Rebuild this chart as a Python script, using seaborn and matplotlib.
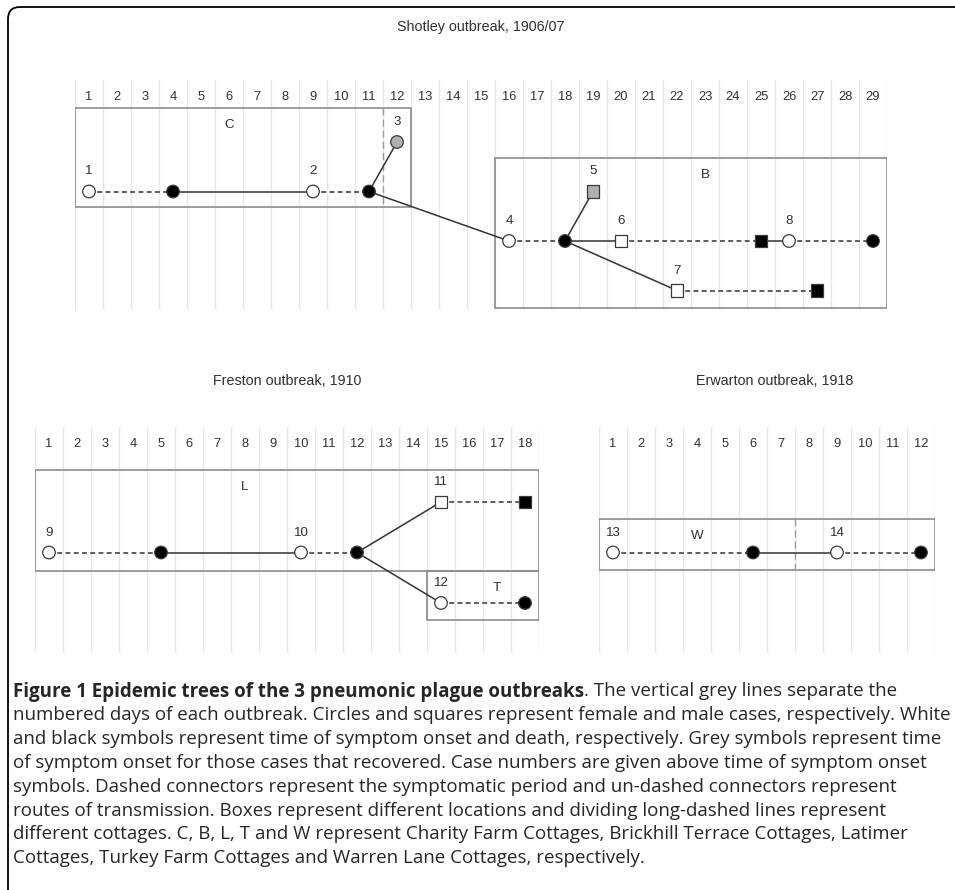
import matplotlib
matplotlib.use("Agg")
import matplotlib.pyplot as plt
import seaborn as sns
import pandas as pd
from matplotlib.patches import Rectangle, FancyBboxPatch
from matplotlib.transforms import IdentityTransform

sns.set_theme(style="white")
plt.rcParams['font.family'] = ['Liberation Sans', 'DejaVu Sans']

# ---------------- data ----------------
outbreak_keys = ["Shotley", "Freston", "Erwarton"]
outbreak_titles = ["Shotley outbreak, 1906/07", "Freston outbreak, 1910", "Erwarton outbreak, 1918"]
outbreak_days = [29, 18, 12]

case_ids = [1, 2, 3, 4, 5, 6, 7, 8, 9, 10, 11, 12, 13, 14]
case_outbreak = ["Shotley"] * 8 + ["Freston"] * 4 + ["Erwarton"] * 2
case_sex = ["F", "F", "F", "F", "M", "M", "M", "F", "F", "F", "M", "F", "F", "F"]
case_onset = [1, 9, 12, 16, 19, 20, 22, 26, 1, 10, 15, 15, 1, 9]
case_death = [4, 11, None, 18, None, 25, 27, 29, 5, 12, 18, 18, 6, 12]
case_row = [1, 1, 0, 2, 1, 2, 3, 2, 1, 1, 0, 2, 1, 1]
case_infector = [None, 1, 2, 2, 4, 4, 4, 6, None, 9, 10, 10, None, 13]

box_outbreak = ["Shotley", "Shotley", "Freston", "Freston", "Erwarton"]
box_label = ["C", "B", "L", "T", "W"]
box_first_day = [1, 16, 1, 15, 1]
box_last_day = [12, 29, 18, 18, 12]
box_row_top = [-0.68, 0.32, -0.634, 1.366, 0.346]
box_row_bottom = [1.32, 3.35, 1.366, 2.337, 1.356]
box_label_day = [6, 23, 8, 17, 4]
box_label_row = [-0.34, 0.67, -0.30, 1.70, 0.68]

divider_box = ["C", "W"]
divider_after_day = [11, 7]

caption_bold = "Figure 1 Epidemic trees of the 3 pneumonic plague outbreaks"
caption_lines = [
    ". The vertical grey lines separate the",
    "numbered days of each outbreak. Circles and squares represent female and male cases, respectively. White",
    "and black symbols represent time of symptom onset and death, respectively. Grey symbols represent time",
    "of symptom onset for those cases that recovered. Case numbers are given above time of symptom onset",
    "symbols. Dashed connectors represent the symptomatic period and un-dashed connectors represent",
    "routes of transmission. Boxes represent different locations and dividing long-dashed lines represent",
    "different cottages. C, B, L, T and W represent Charity Farm Cottages, Brickhill Terrace Cottages, Latimer",
    "Cottages, Turkey Farm Cottages and Warren Lane Cottages, respectively.",
]

# ---------------- layout (pixels) ----------------
W, H = 955, 890
DAY_PX = 28
panel_left = {"Shotley": 75, "Freston": 35, "Erwarton": 599}
panel_top = {"Shotley": 80, "Freston": 427, "Erwarton": 427}
panel_bottom = {"Shotley": 310, "Freston": 653, "Erwarton": 653}
panel_row0 = {"Shotley": 142, "Freston": 502, "Erwarton": 502}
panel_rowstep = {"Shotley": 49.5, "Freston": 50.5, "Erwarton": 50.5}
title_xy = {"Shotley": (481, 27), "Freston": (287, 381), "Erwarton": (775, 381)}

GRID_C = "#e6e6e6"
BOX_C = "#8c8c8c"
LINE_C = "#333333"
TEXT_C = "#303030"
DAY_FS = 9.3
CASE_FS = 9.6
TITLE_FS = 10.3

cases = pd.DataFrame({
    "id": case_ids, "outbreak": case_outbreak, "sex": case_sex,
    "onset": case_onset, "death": case_death, "row": case_row,
    "infector": case_infector,
})

fig = plt.figure(figsize=(W / 100, H / 100), dpi=100)
fig.patch.set_facecolor("white")

for key, title, ndays in zip(outbreak_keys, outbreak_titles, outbreak_days):
    L, T, B = panel_left[key], panel_top[key], panel_bottom[key]
    r0, rs = panel_row0[key], panel_rowstep[key]
    ax = fig.add_axes([L / W, 1 - B / H, ndays * DAY_PX / W, (B - T) / H])

    # day grid + labels
    days = list(range(1, ndays + 1))
    for d in range(0, ndays + 1):
        ax.axvline(d + 0.5, color=GRID_C, lw=1.0, zorder=0)
    for d in days:
        ax.annotate(str(d), (d, 1), xycoords=("data", "axes fraction"),
                    xytext=(0, -17 * 0.72), textcoords="offset points",
                    ha="center", va="center", fontsize=DAY_FS, color=TEXT_C)

    sub = cases[cases.outbreak == key]

    # markers
    ev = []
    for _, c in sub.iterrows():
        if pd.isna(c.death):
            ev.append({"day": c.onset, "row": c.row, "sex": c.sex, "status": "recovered"})
        else:
            ev.append({"day": c.onset, "row": c.row, "sex": c.sex, "status": "onset"})
            ev.append({"day": c.death, "row": c.row, "sex": c.sex, "status": "death"})
    ev = pd.DataFrame(ev)

    # connectors
    seg = []
    for _, c in sub.iterrows():
        if not pd.isna(c.death):
            sid = f"s{c.id}"
            seg.append({"seg": sid, "kind": "symptom", "day": c.onset, "row": c.row})
            seg.append({"seg": sid, "kind": "symptom", "day": c.death, "row": c.row})
        if not pd.isna(c.infector):
            src = cases[cases.id == c.infector].iloc[0]
            sid = f"t{c.id}"
            seg.append({"seg": sid, "kind": "transmission", "day": src.death, "row": src.row})
            seg.append({"seg": sid, "kind": "transmission", "day": c.onset, "row": c.row})
    seg = pd.DataFrame(seg)

    sns.lineplot(data=seg, x="day", y="row", units="seg", estimator=None, sort=False,
                 style="kind", style_order=["symptom", "transmission"],
                 dashes={"symptom": (3.2, 2.2), "transmission": ""},
                 color=LINE_C, lw=1.1, legend=False, ax=ax, zorder=2)

    sns.scatterplot(data=ev, x="day", y="row", hue="status", style="sex",
                    palette={"onset": "white", "death": "black", "recovered": "#b0b0b0"},
                    markers={"F": "o", "M": "s"}, s=82, edgecolor="#3a3a3a",
                    linewidth=0.9, legend=False, ax=ax, zorder=4)
    ax.set_xlim(0.5, ndays + 0.5)
    ax.set_ylim((B - r0) / rs, (T - r0) / rs)
    ax.axis("off")

    # case numbers
    for _, c in sub.iterrows():
        ax.annotate(str(c.id), (c.onset, c.row), xytext=(0, 20 * 0.72),
                    textcoords="offset points", ha="center", va="center",
                    fontsize=CASE_FS, color=TEXT_C)

    # location boxes
    for bo, bl, f, l, t, b, ld, lr in zip(box_outbreak, box_label, box_first_day,
                                          box_last_day, box_row_top, box_row_bottom,
                                          box_label_day, box_label_row):
        if bo != key:
            continue
        ax.add_patch(Rectangle((f - 0.5, t), l - f + 1, b - t, fill=False,
                               edgecolor=BOX_C, lw=1.2, zorder=1))
        ax.text(ld, lr, bl, ha="center", va="center", fontsize=CASE_FS, color=TEXT_C)
        for db, dd in zip(divider_box, divider_after_day):
            if db == bl:
                ax.plot([dd + 0.5, dd + 0.5], [t, b], color="#9a9a9a", lw=1.0,
                        dashes=(5, 3), zorder=1)

    tx, ty = title_xy[key]
    fig.text(tx / W, 1 - ty / H, title, ha="center", va="center",
             fontsize=TITLE_FS, color=TEXT_C)

# frame with rounded top-left corner
frame = FancyBboxPatch((8, -60), 1100, 890 - 7 + 60,
                       boxstyle="round,pad=0,rounding_size=12",
                       transform=IdentityTransform(), fill=False,
                       edgecolor="black", lw=1.3)
fig.add_artist(frame)

# caption
cap_family = ['Open Sans', 'DejaVu Sans']
x0 = 13
y_first = 689
line_h = 23.9
base = 10.0
tb = fig.text(x0 / W, 1 - y_first / H, caption_bold, fontweight="bold",
              family=cap_family, fontsize=base, va="center_baseline", ha="left")
tn = [fig.text(x0 / W, 1 - (y_first + i * line_h) / H, s, family=cap_family,
               fontsize=base, va="center_baseline", ha="left")
      for i, s in enumerate(caption_lines)]
fig.canvas.draw()
r = fig.canvas.get_renderer()
wb = tb.get_window_extent(r).width
widths = [wb + tn[0].get_window_extent(r).width] + \
         [t.get_window_extent(r).width for t in tn[1:]]
scale = (950 - x0) / max(widths)
size = base * scale
tb.set_fontsize(size)
for t in tn:
    t.set_fontsize(size)
fig.canvas.draw()
wb = tb.get_window_extent(r).width
tn[0].set_x((x0 + wb) / W)

fig.savefig("out.png", dpi=100, facecolor="white")
